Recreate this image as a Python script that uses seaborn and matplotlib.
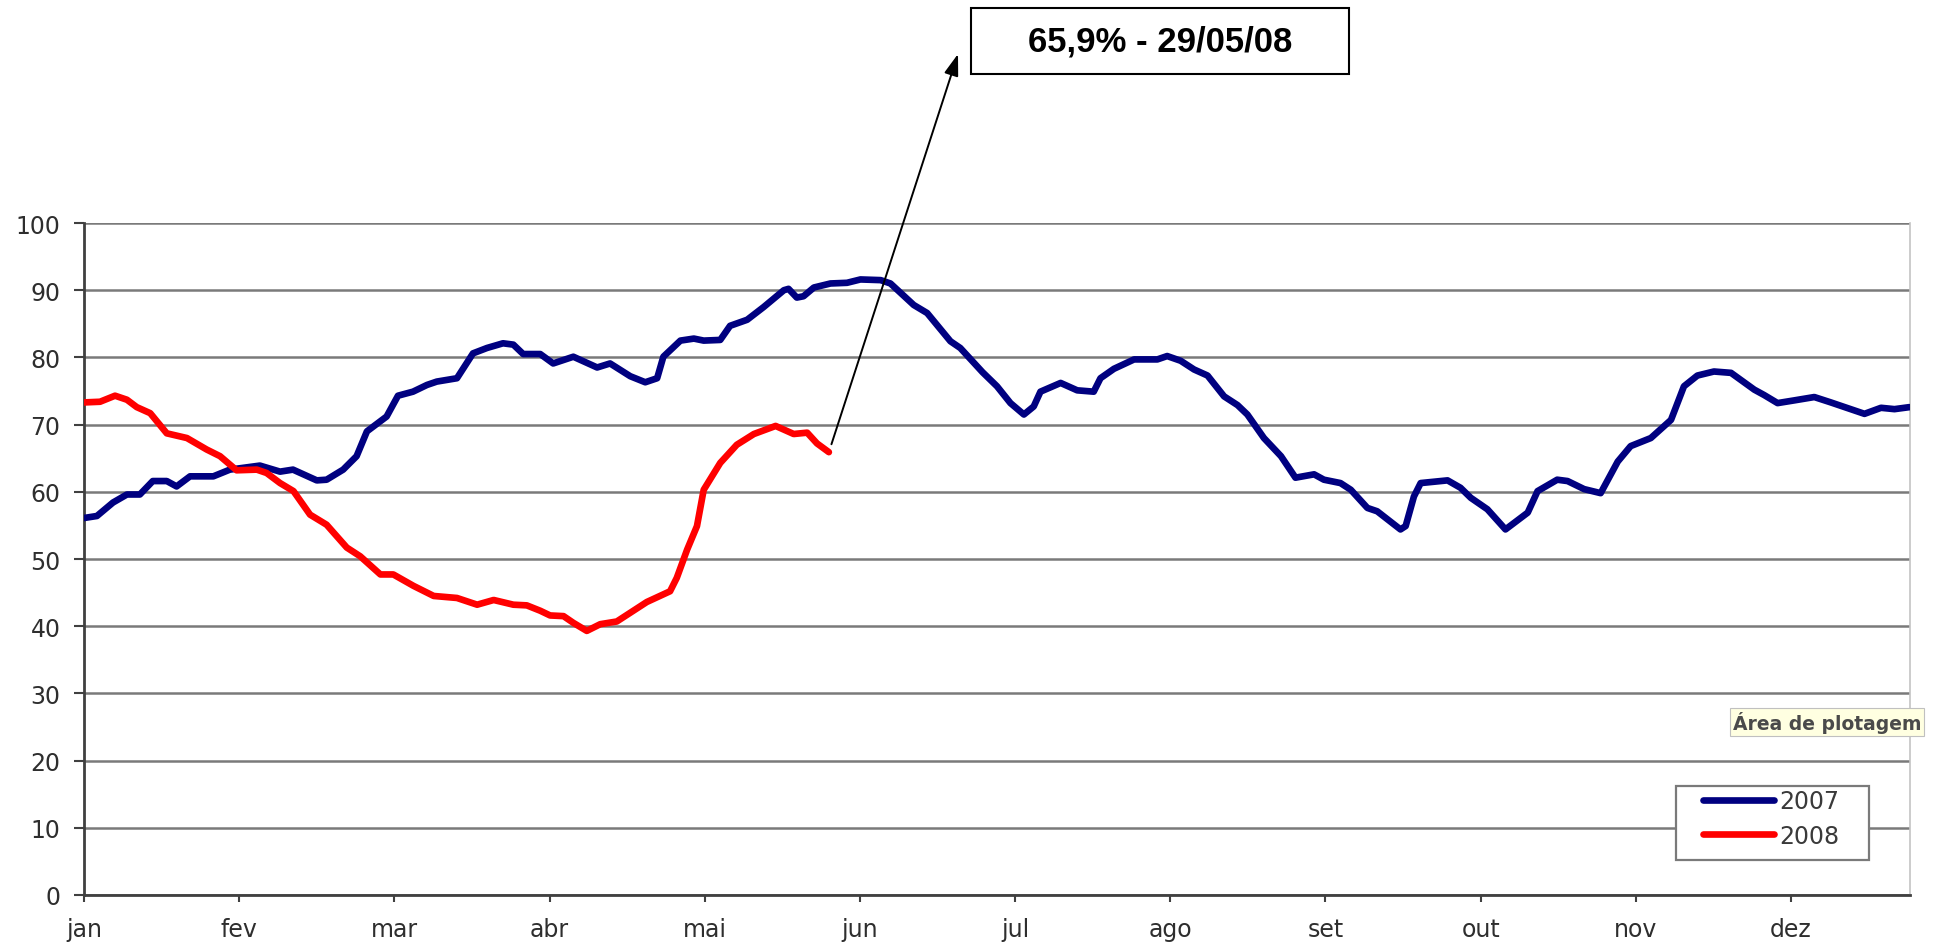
import matplotlib
matplotlib.use("Agg")
import matplotlib.pyplot as plt
from matplotlib.patches import Rectangle
from matplotlib.lines import Line2D
import pandas as pd
import seaborn as sns

# Eixo horizontal: posição no ano (30 posições por mês)
meses = ["jan", "fev", "mar", "abr", "mai", "jun", "jul", "ago", "set", "out", "nov", "dez"]
anos = ["2007", "2008"]

dias_2007 = [0, 2.5, 5.6, 8.3, 10.8, 13.3, 16.0, 17.9, 20.5, 25.0, 28.2, 34.0, 37.9, 40.4,
             45.0, 46.9, 50.1, 52.7, 54.7, 58.5, 60.7, 63.6, 66.3, 68.2, 72.1, 75.2, 77.9,
             81.0, 83.0, 84.9, 88.2, 90.7, 94.6, 99.2, 101.7, 105.6, 108.5, 110.8, 112.0,
             115.3, 117.9, 119.8, 123.0, 124.9, 128.2, 131.4, 135.3, 136.2, 137.8, 139.1,
             141.1, 144.3, 147.5, 150.1, 154.0, 155.9, 160.4, 163.0, 167.5, 169.4, 173.7,
             176.5, 179.1, 181.7, 183.6, 184.9, 188.8, 192.0, 195.2, 196.5, 199.1, 203.0,
             207.5, 209.4, 212.0, 214.6, 217.2, 220.4, 223.0, 224.9, 228.1, 231.4, 234.2,
             237.8, 239.7, 242.9, 244.9, 248.1, 250.0, 254.5, 255.5, 257.1, 258.4, 262.3,
             263.6, 266.1, 268.1, 271.3, 274.8, 279.1, 281.0, 284.8, 286.8, 290.0, 293.2,
             296.5, 299.0, 302.9, 306.8, 309.3, 311.9, 315.1, 318.4, 322.9, 324.8, 327.4,
             330.6, 334.5, 337.7, 344.2, 347.4, 350.0, 352.9]
nivel_2007 = [56.1, 56.4, 58.4, 59.6, 59.6, 61.6, 61.6, 60.8, 62.3, 62.3, 63.3, 63.9, 63.0, 63.3,
              61.7, 61.8, 63.3, 65.3, 69.0, 71.2, 74.3, 74.9, 75.9, 76.4, 76.9, 80.6, 81.4,
              82.1, 81.9, 80.5, 80.5, 79.1, 80.1, 78.5, 79.1, 77.2, 76.3, 76.9, 80.1,
              82.5, 82.8, 82.5, 82.6, 84.7, 85.6, 87.5, 90.0, 90.2, 88.9, 89.1,
              90.4, 91.0, 91.1, 91.6, 91.5, 91.0, 87.8, 86.6, 82.4, 81.4, 77.8,
              75.7, 73.2, 71.5, 72.7, 74.9, 76.2, 75.1, 74.9, 76.9, 78.3, 79.7,
              79.7, 80.2, 79.5, 78.2, 77.3, 74.2, 72.9, 71.5, 68.0, 65.3, 62.1,
              62.6, 61.8, 61.3, 60.3, 57.6, 57.1, 54.4, 54.9, 59.3, 61.3, 61.6,
              61.7, 60.6, 59.1, 57.4, 54.4, 56.9, 60.1, 61.8, 61.6, 60.4, 59.8,
              64.5, 66.8, 68.0, 70.7, 75.7, 77.3, 77.9, 77.7, 75.2, 74.4, 73.2,
              73.6, 74.1, 73.3, 71.6, 72.5, 72.3, 72.6]

dias_2008 = [0, 3.1, 6.0, 8.3, 10.2, 12.8, 16.0, 19.9, 23.7, 26.3, 29.5, 33.4, 35.3, 37.9,
             40.5, 43.7, 46.9, 50.8, 53.4, 57.3, 59.8, 63.7, 67.6, 72.1, 76.0, 79.2, 83.0,
             85.6, 88.2, 90.1, 92.7, 94.6, 97.2, 99.8, 103.0, 105.6, 108.8, 113.3, 114.6,
             116.6, 118.5, 119.8, 123.0, 126.2, 129.5, 133.7, 137.2, 139.8, 141.7, 144.0]
nivel_2008 = [73.3, 73.4, 74.3, 73.7, 72.6, 71.7, 68.7, 68.0, 66.3, 65.3, 63.2, 63.3, 62.8, 61.3,
              60.1, 56.6, 55.1, 51.7, 50.4, 47.7, 47.7, 46.0, 44.5, 44.2, 43.2, 43.9, 43.2,
              43.1, 42.3, 41.6, 41.5, 40.5, 39.3, 40.3, 40.7, 42.0, 43.6, 45.2, 47.2,
              51.4, 54.9, 60.3, 64.3, 67.0, 68.6, 69.8, 68.6, 68.8, 67.2, 65.9]
data_ultimo = "29/05/08"

cores = {"2007": "#000080", "2008": "#FF0000"}

df = pd.concat([
    pd.DataFrame({"dia": dias_2007, "nivel": nivel_2007, "ano": "2007"}),
    pd.DataFrame({"dia": dias_2008, "nivel": nivel_2008, "ano": "2008"}),
], ignore_index=True)

sns.set_theme(style="white")
plt.rcParams["font.family"] = ["DejaVu Sans"]

W, H = 1940, 945
fig = plt.figure(figsize=(W / 100, H / 100), dpi=100)
fig.patch.set_facecolor("white")
ax = fig.add_axes([84 / W, 49 / H, (1910 - 84) / W, (896 - 224) / H])

sns.lineplot(data=df, x="dia", y="nivel", hue="ano", palette=cores, hue_order=anos,
             estimator=None, sort=False, linewidth=4.8, legend=False, ax=ax, zorder=3)
for ln in ax.lines:
    ln.set_solid_joinstyle("round")
    ln.set_solid_capstyle("round")

ax.set_xlim(0, 353)
ax.set_ylim(0, 100)
ax.set_xticks(range(0, 30 * len(meses), 30))
ax.set_xticklabels(meses)
ax.set_yticks(range(0, 101, 10))
ax.set_xlabel("")
ax.set_ylabel("")

ax.yaxis.grid(True, color="#7a7a7a", linewidth=1.8)
ax.xaxis.grid(False)
ax.set_axisbelow(True)

ax.spines["top"].set_visible(False)
ax.spines["right"].set_color("#c4c4c4")
ax.spines["right"].set_linewidth(1.2)
for s in ("left", "bottom"):
    ax.spines[s].set_color("#404040")
    ax.spines[s].set_linewidth(2)

ax.tick_params(axis="y", direction="out", length=7, width=1.5, color="#404040",
               pad=10, labelsize=17, labelcolor="#2e2e2e", left=True)
ax.tick_params(axis="x", direction="out", length=5, width=1.5, color="#404040",
               pad=11, labelsize=17, labelcolor="#2e2e2e", bottom=True)

# Legenda com moldura
fig.add_artist(Rectangle((1676 / W, 1 - 861 / H), (1869 - 1676) / W, (861 - 787) / H,
                         transform=fig.transFigure, facecolor="white",
                         edgecolor="#7a7a7a", linewidth=1.6, zorder=2))
handles = [Line2D([], [], color=cores[a], linewidth=4.8) for a in anos]
leg = fig.legend(handles, anos, loc="upper left",
                 bbox_to_anchor=(1703 / W, 1 - 790 / H), bbox_transform=fig.transFigure,
                 frameon=False, borderpad=0, borderaxespad=0, handlelength=3.0,
                 handletextpad=0.25, labelspacing=0.45, fontsize=17)
leg.set_zorder(3)
for t in leg.get_texts():
    t.set_color("#3a3a3a")

# Dica de ferramenta sobre a área do gráfico
fig.text(1733 / W, 1 - 723 / H, "Área de plotagem", fontsize=13.5, fontweight="bold",
         color="#4a4a4a", ha="left", va="center", zorder=6,
         bbox=dict(boxstyle="square,pad=0.15", facecolor="#FFFFE1",
                   edgecolor="#c0c0c0", linewidth=0.8))

# Destaque do último valor de 2008
valor_final = nivel_2008[-1]
rotulo = f"{valor_final:.1f}".replace(".", ",") + "% - " + data_ultimo
fig.add_artist(Rectangle((971 / W, 1 - 75 / H), (1349 - 971) / W, 66 / H,
                         transform=fig.transFigure, facecolor="white",
                         edgecolor="black", linewidth=1.5, zorder=4))
fig.text((971 + 1349) / 2 / W, 1 - 42 / H, rotulo, fontsize=25, fontweight="bold",
         family=["Liberation Sans", "DejaVu Sans"], color="black",
         ha="center", va="center", zorder=5)
ax.annotate("", xy=(958 / W, 1 - 55 / H), xycoords="figure fraction",
            xytext=(dias_2008[-1], valor_final), textcoords="data",
            arrowprops=dict(arrowstyle="-|>,head_length=0.6,head_width=0.2",
                            color="black", linewidth=1.4, shrinkA=6, shrinkB=0,
                            mutation_scale=22),
            zorder=5, annotation_clip=False)

fig.savefig("out.png", dpi=100, facecolor="white")
